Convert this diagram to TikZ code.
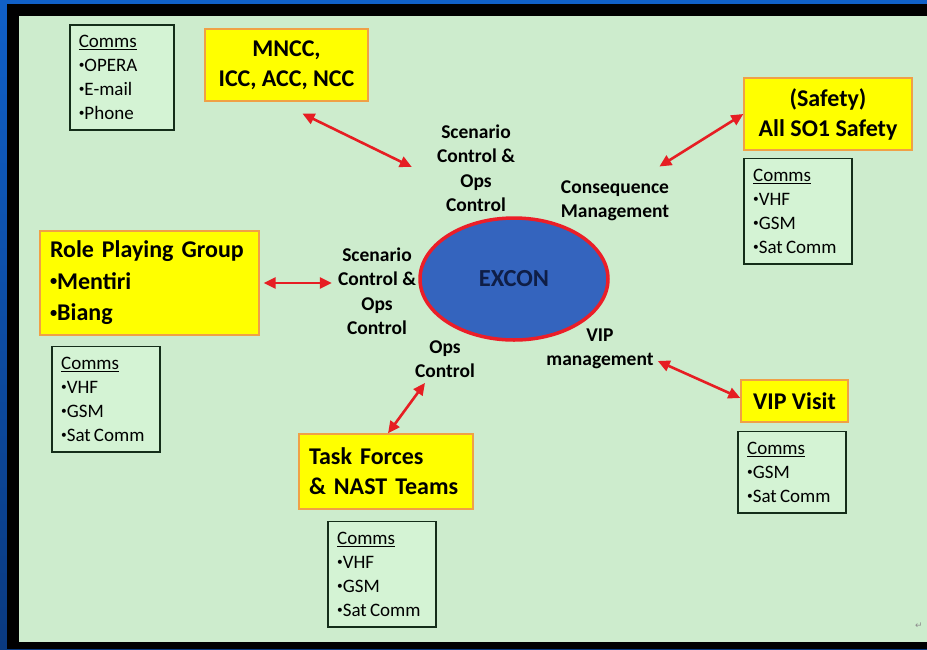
\documentclass[tikz,border=0pt]{standalone}
\usepackage{fontspec}
\setmainfont{Carlito}
\newfontfamily\symfont{DejaVu Sans}
\usetikzlibrary{positioning,shapes.geometric,arrows.meta}
\definecolor{frameblue}{RGB}{16,96,200}
\definecolor{framedeep}{RGB}{10,58,128}
\definecolor{slidegreen}{RGB}{205,236,205}
\definecolor{commsfill}{RGB}{212,243,212}
\definecolor{commsline}{RGB}{20,45,25}
\definecolor{boxyellow}{RGB}{255,255,0}
\definecolor{boxorange}{RGB}{240,160,70}
\definecolor{arrowred}{RGB}{230,30,35}
\definecolor{exconblue}{RGB}{52,100,190}
\definecolor{exconred}{RGB}{235,30,40}
\definecolor{exconink}{RGB}{15,30,70}
\newcommand{\blt}{\raisebox{0.15em}{\scalebox{0.6}{•}}}

\begin{document}
\begin{tikzpicture}[x=1pt,y=-1pt]
		\tikzset{RoleStyle/.style = {rectangle, draw=boxorange, line width=1.3pt, fill=boxyellow, align=center,
		font=\bfseries\fontsize{24}{30}\selectfont},
		CommsStyle/.style = {rectangle, draw=commsline, line width=1.6pt, fill=commsfill, align=left,
		inner xsep=9pt, inner ysep=10.5pt, text width=90pt, font=\fontsize{19}{24}\selectfont},
		TagStyle/.style = {inner sep=0pt, align=center, font=\bfseries\fontsize{19.5}{24.5}\selectfont},
		LinkStyle/.style = {draw=arrowred, line width=2.6pt,
		{Triangle[length=12pt,width=11pt]}-{Triangle[length=12pt,width=11pt]}}}
		% slide frame
		\shade[top color=frameblue, bottom color=framedeep] (0,0) rectangle (927,649);
		\fill[black] (7,4) rectangle (927,649);
		\fill[slidegreen] (19,16) rectangle (927,642);
		\useasboundingbox (0,0) rectangle (927,649);
		\node[ellipse, draw=exconred, line width=3.5pt, fill=exconblue, minimum width=188pt, minimum height=122pt,
		text=exconink, font=\bfseries\fontsize{24.5}{28}\selectfont] (excon) at (514,279) {EXCON};
		\node[RoleStyle, minimum width=163pt, minimum height=72pt] (mncc) at (286.5,65) {MNCC,\\ICC, ACC, NCC};
		\node[RoleStyle, minimum width=168pt, minimum height=72pt] (safety) at (828,114) {(Safety)\\All SO1 Safety};
		\node[RoleStyle, minimum height=104pt, text width=199pt, inner xsep=10pt, align=left,
		font=\bfseries\fontsize{24}{31.5}\selectfont] (rpg) at (149.5,283) {Role Playing Group\\\blt Mentiri\\\blt Biang};
		\node[RoleStyle, minimum width=107pt, minimum height=42pt] (vip) at (794.5,401) {VIP Visit};
		\node[RoleStyle, minimum height=75pt, text width=154pt, inner xsep=10pt, align=left] (task) at (386,471.5) {Task Forces\\\& NAST Teams};
		\node[TagStyle] (scentop) at (476,168) {Scenario\\Control \&\\Ops\\Control};
		\node[TagStyle] (scenleft) at (377,291) {Scenario\\Control \&\\Ops\\Control};
		\node[TagStyle] (conseq) at (615,201) {Consequence\\Management};
		\node[TagStyle] (opsctl) at (445,359) {Ops\\Control};
		\node[TagStyle] (vipmgmt) at (600,349) {VIP\\management};
		\node[CommsStyle, anchor=north west, text width=86pt] (comms1) at (69,24) {\underline{Comms}\\\blt OPERA\\\blt E-mail\\\blt Phone};
		\node[CommsStyle, below right=7pt and 0pt of safety.south west] (comms2) {\underline{Comms}\\\blt VHF\\\blt GSM\\\blt Sat\,Comm};
		\node[CommsStyle, below right=10pt and 12pt of rpg.south west] (comms3) {\underline{Comms}\\\blt VHF\\\blt GSM\\\blt Sat\,Comm};
		\node[CommsStyle, below right=8pt and -3pt of vip.south west] (comms4) {\underline{Comms}\\\blt GSM\\\blt Sat\,Comm};
		\node[CommsStyle, below right=11pt and 29pt of task.south west] (comms5) {\underline{Comms}\\\blt VHF\\\blt GSM\\\blt Sat\,Comm};
		\node[font=\symfont\fontsize{9}{9}\selectfont, text=black!45] (retmark) at (919,626) {↵};
		\draw[LinkStyle] ([xshift=16pt,yshift=-12pt]mncc.south) -- ([xshift=-25pt,yshift=1pt]scentop.west);
		\draw[LinkStyle] ([xshift=-10pt,yshift=14pt]conseq.north east) -- (safety.west);
		\draw[LinkStyle] ([xshift=4pt]rpg.east) -- ([xshift=-6pt,yshift=8pt]scenleft.west);
		\draw[LinkStyle] ([xshift=4pt,yshift=-12pt]vipmgmt.east) -- ([yshift=3pt]vip.west);
		\draw[LinkStyle] ([xshift=-20pt,yshift=-5pt]opsctl.south) -- ([xshift=2pt]task.north);
	\end{tikzpicture}
\end{document}
